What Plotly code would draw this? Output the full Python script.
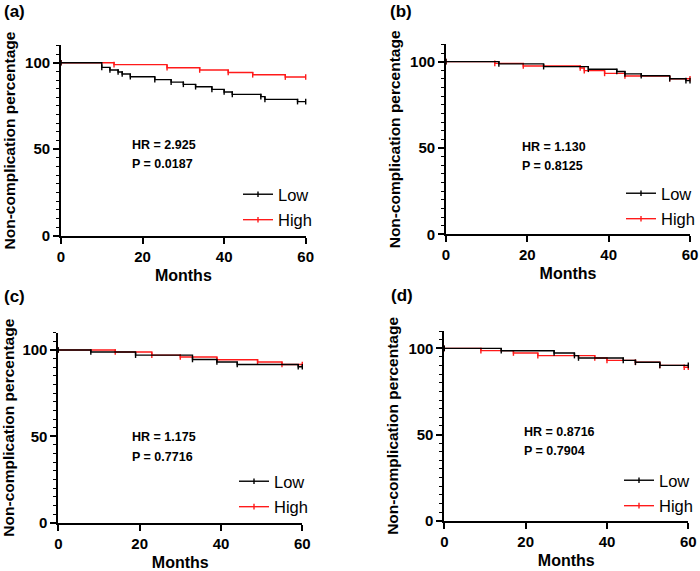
import plotly.graph_objects as go

# ---- data (Kaplan-Meier step points, months / % non-complication) ----
A_low_t = [0, 10, 12, 14, 15, 17, 23, 27, 30, 33, 37, 40, 42, 49, 50, 58, 60]
A_low_s = [100, 97.3, 95.8, 94.6, 93.5, 91.9, 90.2, 88.8, 87.5, 86.1, 84.6, 83.1, 81.7, 80.4, 78.8, 77.5, 77.5]
A_high_t = [0, 13, 26, 34, 41, 47, 55, 60]
A_high_s = [100, 98.9, 97.1, 95.8, 94.3, 93.0, 91.7, 91.7]

B_low_t = [0, 13, 24, 35, 42, 44, 48, 55, 59, 60]
B_low_s = [100, 98.7, 97.1, 95.6, 94.3, 92.9, 91.8, 90.1, 89.0, 89.0]
B_high_t = [0, 12, 19, 33, 34, 39, 44, 55, 60]
B_high_s = [100, 99.0, 97.5, 96.3, 94.8, 93.2, 91.7, 90.1, 90.1]

C_low_t = [0, 8, 19, 33, 39, 44, 59, 60]
C_low_s = [100, 98.8, 97.0, 94.5, 93.0, 91.6, 90.3, 90.3]
C_high_t = [0, 14, 23, 30, 39, 49, 55, 60]
C_high_s = [100, 98.8, 97.0, 95.9, 94.3, 93.0, 91.6, 91.6]

D_low_t = [0, 14, 27, 32, 33, 44, 47, 53, 60]
D_low_s = [100, 98.6, 97.3, 95.8, 94.4, 93.0, 91.9, 90.1, 90.1]
D_high_t = [0, 9, 17, 23, 37, 40, 47, 53, 59, 60]
D_high_s = [100, 98.7, 97.3, 95.8, 94.4, 93.0, 91.9, 90.1, 89.0, 89.0]

panel_labels = ["(a)", "(b)", "(c)", "(d)"]
hr_texts = ["HR = 2.925", "HR = 1.130", "HR = 1.175", "HR = 0.8716"]
p_texts = ["P = 0.0187", "P = 0.8125", "P = 0.7716", "P = 0.7904"]
group_names = ["Low", "High"]
x_ticks = [0, 20, 40, 60]
y_ticks = [0, 50, 100]

W, H = 700, 571
FONT = "Liberation Sans, Arial, sans-serif"

panels = [
    dict(low=(A_low_t, A_low_s), high=(A_high_t, A_high_s),
         x0=61.0, x1=305.7, y0=235.7, ytop=45.4,
         lab=(2, 12), hr=(130, 145), p=(130, 164), leg=(250, 177)),
    dict(low=(B_low_t, B_low_s), high=(B_high_t, B_high_s),
         x0=446.0, x1=690.0, y0=234.3, ytop=44.4,
         lab=(388, 12), hr=(520, 146.5), p=(520, 165.5), leg=(633, 176)),
    dict(low=(C_low_t, C_low_s), high=(C_high_t, C_high_s),
         x0=58.3, x1=302.3, y0=522.7, ytop=332.7,
         lab=(2, 297), hr=(130, 436.5), p=(130, 456.5), leg=(246, 464)),
    dict(low=(D_low_t, D_low_s), high=(D_high_t, D_high_s),
         x0=444.3, x1=688.3, y0=520.7, ytop=331.1,
         lab=(389, 295), hr=(521.5, 432.3), p=(521.5, 451), leg=(631, 463)),
]

fig = go.Figure()
annotations = []
layout = dict(
    width=W, height=H, margin=dict(l=0, r=0, t=0, b=0, pad=0),
    paper_bgcolor="white", plot_bgcolor="white", template="none",
    font=dict(family=FONT, color="black"),
    showlegend=True,
)

for i, pn in enumerate(panels):
    n = "" if i == 0 else str(i + 1)
    xa, ya = "x" + n, "y" + n
    leg = "legend" + n
    # red (High) drawn first so black sits on top, as in the reference
    for gname, (tt, ss), color, rank in [("High", pn["high"], "#ff1a1a", 2),
                                          ("Low", pn["low"], "black", 1)]:
        fig.add_trace(go.Scatter(
            x=tt, y=ss, mode="lines+markers", name=gname,
            line=dict(color=color, width=1.4, shape="hv"),
            marker=dict(symbol="line-ns", size=4, line=dict(color=color, width=1.4)),
            xaxis=xa, yaxis=ya, legend=leg, legendrank=rank,
            legendgroup=gname, cliponaxis=False, hoverinfo="skip",
        ))
    axis_common = dict(
        showline=True, linecolor="black", linewidth=1.7, showgrid=False,
        zeroline=False, ticks="outside", ticklen=6, tickwidth=1.7, tickcolor="black",
        tickfont=dict(family=FONT, size=15, weight="bold", color="black"),
        automargin=False,
    )
    layout["xaxis" + n] = dict(
        axis_common, domain=[pn["x0"] / W, pn["x1"] / W], range=[0, 60],
        tickvals=x_ticks, anchor=ya,
        title=dict(text="Months", font=dict(family=FONT, size=16, weight="bold"), standoff=6),
    )
    layout["yaxis" + n] = dict(
        axis_common, domain=[(H - pn["y0"]) / H, (H - pn["ytop"]) / H], range=[0, 110],
        tickvals=y_ticks, anchor=xa,
        minor=dict(dtick=5, ticks="outside", ticklen=3.5, tickwidth=1.4, tickcolor="black"),
        title=dict(text="Non-complication percentage",
                   font=dict(family=FONT, size=15.5, weight="bold"), standoff=6),
    )
    layout[leg] = dict(
        x=(pn["leg"][0] - 12) / W, xanchor="left",
        y=(H - pn["leg"][1]) / H, yanchor="top",
        bgcolor="rgba(0,0,0,0)", borderwidth=0,
        font=dict(family=FONT, size=16.5, color="black"),
        tracegroupgap=1, itemclick=False,
    )
    annotations.append(dict(text=panel_labels[i], x=pn["lab"][0] / W, y=(H - pn["lab"][1]) / H,
                            xref="paper", yref="paper", xanchor="left", yanchor="middle",
                            showarrow=False, font=dict(family=FONT, size=17, weight="bold")))
    annotations.append(dict(text=hr_texts[i], x=pn["hr"][0] / W, y=(H - pn["hr"][1]) / H,
                            xref="paper", yref="paper", xanchor="left", yanchor="middle",
                            showarrow=False, font=dict(family=FONT, size=12.5, weight="bold")))
    annotations.append(dict(text=p_texts[i], x=pn["p"][0] / W, y=(H - pn["p"][1]) / H,
                            xref="paper", yref="paper", xanchor="left", yanchor="middle",
                            showarrow=False, font=dict(family=FONT, size=12.5, weight="bold")))

layout["annotations"] = annotations
fig.update_layout(**layout)
fig.write_html("out.html")
